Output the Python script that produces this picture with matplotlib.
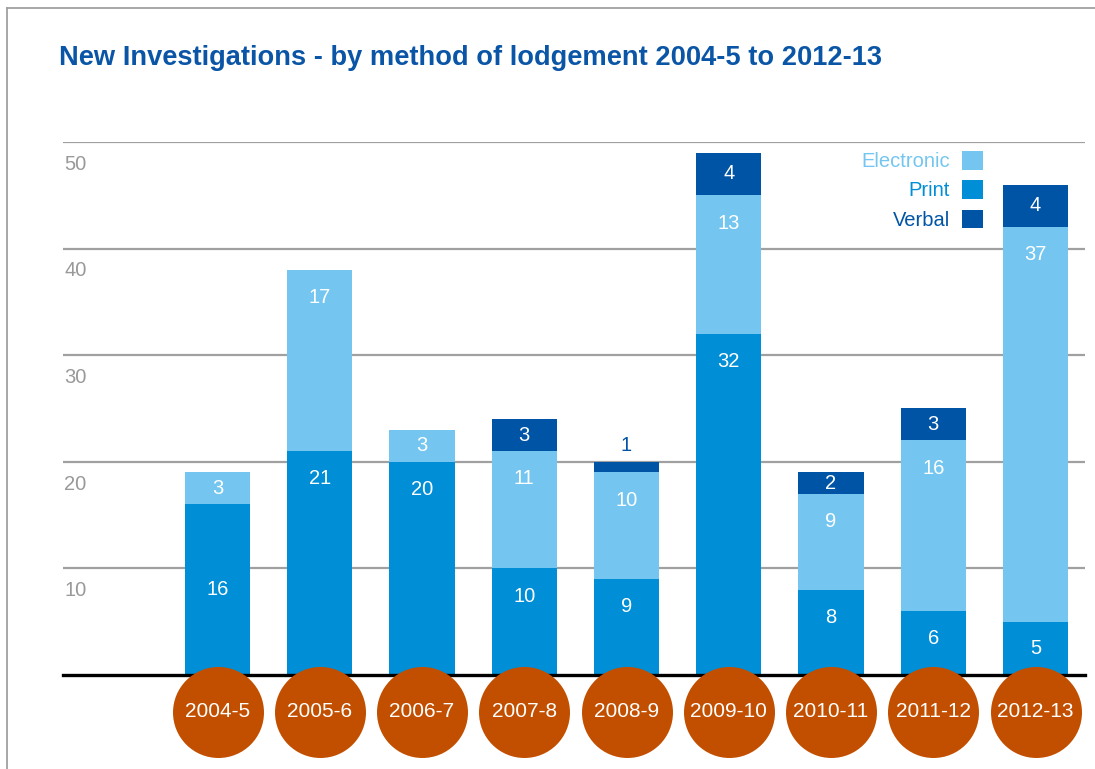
import matplotlib
matplotlib.use("Agg")
import matplotlib.pyplot as plt
from matplotlib.lines import Line2D
from matplotlib.patches import Patch
import matplotlib.transforms as mtransforms
import numpy as np

plt.rcParams['font.family'] = ['Liberation Sans', 'DejaVu Sans']

# Data
years = ["2004-5", "2005-6", "2006-7", "2007-8", "2008-9",
         "2009-10", "2010-11", "2011-12", "2012-13"]
print_vals = [16, 21, 20, 10, 9, 32, 8, 6, 5]
electronic_vals = [3, 17, 3, 11, 10, 13, 9, 16, 37]
verbal_vals = [0, 0, 0, 3, 1, 4, 2, 3, 4]
y_ticks = [10, 20, 30, 40, 50]

# Colours
c_print = "#008ed6"
c_elec = "#74c6f0"
c_verbal = "#0054a6"
c_title = "#0a55a6"
c_grid = "#a0a0a0"
c_circle = "#c24f00"

W, H = 1095, 769
fig = plt.figure(figsize=(W / 100, H / 100), dpi=100)
fig.patch.set_facecolor("white")

# Plot area: baseline near the bottom, 50 gridline at the top edge
ax = fig.add_axes([63 / W, 1 - 675 / H, (1085 - 63) / W, (675 - 142) / H])
ax.set_xlim(-1.511, 8.484)
ax.set_ylim(0, 50)
for s in ax.spines.values():
    s.set_visible(False)
ax.set_xticks([])
ax.set_yticks([])

x = np.arange(len(years))
bw = 0.636

# Gridlines and tick labels (labels sit just under each line)
ytrans = mtransforms.blended_transform_factory(ax.transAxes, ax.transData)
for t in y_ticks:
    ax.axhline(t, color=c_grid, lw=1.6, zorder=1)
    ax.text(0.001, t - 2.1, str(t), transform=ytrans,
            ha="left", va="center", fontsize=14.5, color="#999999")

# Stacked bars
p = np.array(print_vals)
e = np.array(electronic_vals)
v = np.array(verbal_vals)
ax.bar(x, p, bw, color=c_print, zorder=2)
ax.bar(x, e, bw, bottom=p, color=c_elec, zorder=2)
ax.bar(x, v, bw, bottom=p + e, color=c_verbal, zorder=2)

# Baseline
ax.axhline(0, color="black", lw=2.4, zorder=3, clip_on=False)


def label_y(bottom, height, centred=False):
    # labels hang just below the top of each segment, or centre on short ones
    if centred:
        return bottom + height / 2
    return bottom + height - min(height / 2, 2.6)


# Value labels
lab_fs = 14.5
for i in range(len(years)):
    ax.text(x[i], label_y(0, p[i], centred=(i == 0)), str(p[i]), ha="center", va="center",
            color="white", fontsize=lab_fs, zorder=4)
    ax.text(x[i], label_y(p[i], e[i]), str(e[i]), ha="center", va="center",
            color="white", fontsize=lab_fs, zorder=4)
    if v[i] > 0:
        if v[i] >= 2:
            ax.text(x[i], p[i] + e[i] + v[i] / 2, str(v[i]), ha="center", va="center",
                    color="white", fontsize=lab_fs, zorder=4)
        else:
            ax.text(x[i], p[i] + e[i] + v[i] + 1.5, str(v[i]), ha="center", va="center",
                    color=c_verbal, fontsize=lab_fs, zorder=4)

# Year badges below the baseline
ax.scatter(x, np.full(len(x), -3.45), s=91 ** 2 * 0.5184, color=c_circle,
           zorder=5, clip_on=False, linewidths=0)
for i, yr in enumerate(years):
    ax.text(x[i], -3.45, yr, ha="center", va="center", color="white",
            fontsize=15, zorder=6, clip_on=False)

# Legend
handles = [Patch(facecolor=c_elec), Patch(facecolor=c_print), Patch(facecolor=c_verbal)]
leg = ax.legend(handles, ["Electronic", "Print", "Verbal"], markerfirst=False,
                labelcolor=[c_elec, c_print, c_verbal], frameon=False,
                loc="upper right", bbox_to_anchor=(983 / W, 1 - 151 / H),
                bbox_transform=fig.transFigure, fontsize=14.5,
                handlelength=1.05, handleheight=1.05, handletextpad=0.6,
                labelspacing=0.45, borderaxespad=0, borderpad=0)
for h in leg.legend_handles:
    h.set_linewidth(0)

# Title
fig.text(59 / W, 1 - 58 / H, "New Investigations - by method of lodgement 2004-5 to 2012-13",
         ha="left", va="center", fontsize=19.6, fontweight="bold", color=c_title)

# Frame lines along top and left edges
fig.add_artist(Line2D([7 / W, 1.0], [1 - 8 / H, 1 - 8 / H], transform=fig.transFigure,
                      color="#a0a0a0", lw=1.3))
fig.add_artist(Line2D([7 / W, 7 / W], [0.0, 1 - 8 / H], transform=fig.transFigure,
                      color="#a0a0a0", lw=1.3))

fig.savefig("out.png", dpi=100, facecolor="white")
